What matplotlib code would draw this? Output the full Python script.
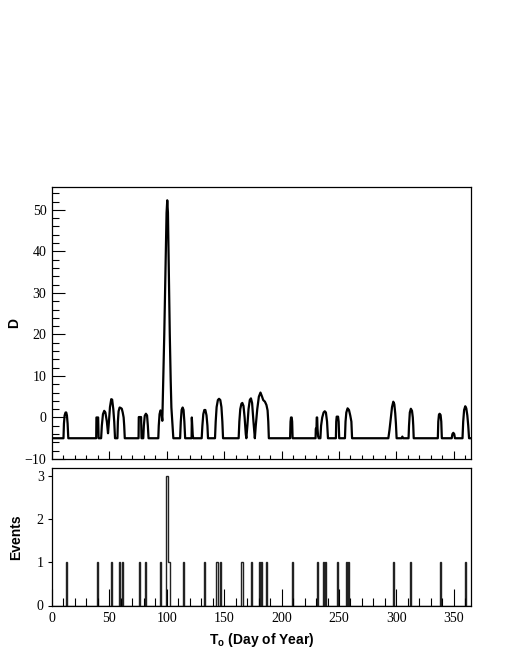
import numpy as np
import matplotlib
matplotlib.use("Agg")
import matplotlib.pyplot as plt
from matplotlib.ticker import MultipleLocator

plt.rcParams["mathtext.fontset"] = "custom"
plt.rcParams["mathtext.bf"] = "Liberation Sans:bold"
plt.rcParams["mathtext.rm"] = "Liberation Sans"

# ---- data: D versus day of year ----
d_day = [0, 10.0, 10.4, 11.0, 11.8, 12.4, 13.0, 13.6, 14.2,
         38.5, 38.7, 40.2, 40.6,
         42.8, 43.4, 44.4, 45.5, 46.5, 47.8, 48.8, 49.6, 50.5, 51.6, 52.4, 53.4, 54.2, 54.9,
         57.0, 57.4, 58.0, 58.9, 59.8, 60.8, 61.6, 62.4, 62.9, 63.4,
         75.4, 75.6, 77.6, 78.0,
         79.5, 80.0, 80.8, 81.8, 82.8, 83.5, 84.1,
         92.6, 93.0, 93.7, 94.5, 95.3, 96.1,
         96.9, 97.8, 98.7, 99.8, 100.4, 101.0, 101.9, 102.6, 103.4, 104.0, 104.8, 105.7,
         111.6, 112.2, 112.9, 113.8, 114.6, 115.3, 116.0,
         121.6, 121.8, 122.6, 123.0,
         130.4, 131.0, 131.8, 132.7, 133.6, 134.6, 135.4, 135.9,
         142.0, 142.6, 143.4, 144.5, 145.5, 146.6, 147.6, 148.4, 149.0,
         162.6, 163.2, 164.0, 165.0, 165.8, 166.8, 167.8, 168.8, 169.3,
         170.2, 171.2, 172.3, 173.3, 174.3, 175.5, 176.7,
         177.5, 178.8, 180.2, 181.6, 183.0, 184.0, 185.5, 186.8, 187.8, 188.4, 188.9,
         207.4, 207.8, 208.2, 208.8, 209.2, 209.6,
         229.6, 229.8, 230.4, 230.6, 231.0, 231.3, 231.8, 232.3,
         233.8, 234.4, 235.4, 236.6, 237.6, 238.6, 239.6, 240.4,
         247.3, 247.6, 248.0, 249.2, 249.7, 250.2,
         255.2, 255.7, 256.4, 257.5, 258.7, 259.8, 260.8, 261.4,
         293.0, 294.0, 295.0, 296.2, 297.3, 298.2, 299.0, 299.6, 300.2,
         304.6, 305.2, 305.8,
         310.6, 311.0, 311.7, 312.6, 313.6, 314.3, 314.7, 315.1,
         336.1, 336.5, 337.1, 337.7, 338.5, 339.1, 339.6,
         348.2, 348.8, 349.6, 350.4, 351.0,
         357.6, 358.2, 359.0, 360.0, 360.9, 361.8, 362.6, 363.3, 365.0]
d_val = [-5, -5, -1.5, 0.5, 1.2, 1.2, 0.5, -1.5, -5,
         -5, 0.0, 0.0, -5,
         -5, -2, 0.8, 1.6, 1.2, -1, -3.8, -1, 2.5, 4.4, 4.3, 2, -1, -5,
         -5, -1, 1.5, 2.4, 2.3, 2.1, 1.2, 0, -2, -5,
         -5, 0.1, 0.1, -5,
         -5, -2, 0.4, 0.9, 0.5, -2, -5,
         -5, -2, 0.8, 1.7, 1.3, -0.8,
         8.9, 20, 33, 49.3, 52.3, 49.3, 33, 20, 8.9, 2.4, -1, -5,
         -5, -1, 1.8, 2.4, 1.8, -1, -5,
         -5, 0.0, -4.2, -5,
         -5, -2, 0.8, 1.8, 1.8, 0.5, -2, -5,
         -5, -1, 2.5, 4.2, 4.5, 4.2, 2.5, -1, -5,
         -5, -1, 2, 3.3, 3.5, 2.8, 0, -4, -5,
         -2, 2, 4.2, 4.6, 3.5, -1, -5,
         -2, 2, 5, 6.0, 5.0, 4.2, 3.8, 3.0, 1.7, -1, -5,
         -5, -1, 0.0, 0.0, -1, -5,
         -5, -2.7, -2.7, 0.0, 0.0, -2.7, -4.5, -5,
         -5, -2, 0, 1.2, 1.5, 1.2, -1, -5,
         -5, -1, 0.2, 0.2, -1, -5,
         -5, -1, 1.2, 2.2, 1.8, 0.5, -1, -5,
         -5, -3, -0.5, 2.5, 3.8, 3.2, 1.0, -1.5, -5,
         -5, -4.6, -5,
         -5, -2, 1.2, 2.1, 1.6, 0, -2, -5,
         -5, -1, 0.7, 0.9, 0.6, -1, -5,
         -5, -4.0, -3.7, -4.0, -5,
         -5, -1, 1.8, 2.7, 2.2, 0.5, -2, -5, -5]

# ---- data: events per day ----
event_days = [12, 39, 51, 58, 61, 76, 81, 94, 99, 100, 101, 102, 114, 132,
              143, 144, 146, 165, 173, 180, 182, 186, 209, 231, 236, 238,
              248, 256, 258, 297, 312, 338, 360]
event_counts = [1, 1, 1, 1, 1, 1, 1, 1, 3, 3, 1, 1, 1, 1,
                1, 1, 1, 1, 1, 1, 1, 1, 1, 1, 1, 1,
                1, 1, 1, 1, 1, 1, 1]

x_label = "T$_{\\mathbf{o}}$ (Day of Year)"
top_ylabel = "D"
bot_ylabel = "Events"

W, H = 514, 665
fig = plt.figure(figsize=(W / 100, H / 100), dpi=100)

serif = "Liberation Serif"
sans = "Liberation Sans"

ax1 = fig.add_axes([52 / W, 1 - 459 / H, 419 / W, 272 / H])
ax2 = fig.add_axes([52 / W, 1 - 605.5 / H, 419 / W, 137.5 / H])

ax1.plot(d_day, d_val, color="black", lw=1.6, solid_joinstyle="round")
ax1.set_xlim(0, 365)
ax1.set_ylim(-10, 55.5)
ax1.xaxis.set_major_locator(MultipleLocator(50))
ax1.xaxis.set_minor_locator(MultipleLocator(10))
ax1.yaxis.set_major_locator(MultipleLocator(10))
ax1.yaxis.set_minor_locator(MultipleLocator(2))
ax1.tick_params(axis="x", which="major", direction="in", length=6, width=0.8,
                labelbottom=False, top=False)
ax1.tick_params(axis="x", which="minor", direction="in", length=3, width=0.8, top=False)
ax1.tick_params(axis="y", which="major", direction="in", length=9, width=0.8,
                right=False, labelsize=10, pad=4)
ax1.tick_params(axis="y", which="minor", direction="in", length=5, width=0.8, right=False)
for lab in ax1.get_yticklabels():
    lab.set_fontfamily(serif)
ax1.set_ylabel(top_ylabel, fontfamily=sans, fontweight="bold", fontsize=10)
ax1.yaxis.set_label_coords(-31 / 419, 0.5)
for s in ax1.spines.values():
    s.set_linewidth(0.9)

edges = np.arange(0, 366)
counts = np.zeros(365)
for d, c in zip(event_days, event_counts):
    counts[d] = c
ax2.stairs(counts, edges, color="#222222", lw=1.0)
ax2.set_xlim(0, 365)
ax2.set_ylim(0, 3.18)
ax2.xaxis.set_major_locator(MultipleLocator(50))
ax2.xaxis.set_minor_locator(MultipleLocator(10))
ax2.yaxis.set_major_locator(MultipleLocator(1))
ax2.tick_params(axis="x", which="major", direction="in", length=12, width=0.8,
                top=False, labelsize=10, pad=5)
ax2.tick_params(axis="x", which="minor", direction="in", length=6, width=0.8, top=False)
ax2.tick_params(axis="y", which="major", direction="out", length=3, width=0.8,
                right=False, labelsize=10, pad=3)
for lab in ax2.get_xticklabels() + ax2.get_yticklabels():
    lab.set_fontfamily(serif)
ax2.set_ylabel(bot_ylabel, fontfamily=sans, fontweight="bold", fontsize=10)
ax2.yaxis.set_label_coords(-29 / 419, 0.5)
ax2.set_xlabel(x_label, fontfamily=sans, fontweight="bold", fontsize=10, labelpad=4)
for s in ax2.spines.values():
    s.set_linewidth(0.9)

fig.savefig("out.png", dpi=100)
